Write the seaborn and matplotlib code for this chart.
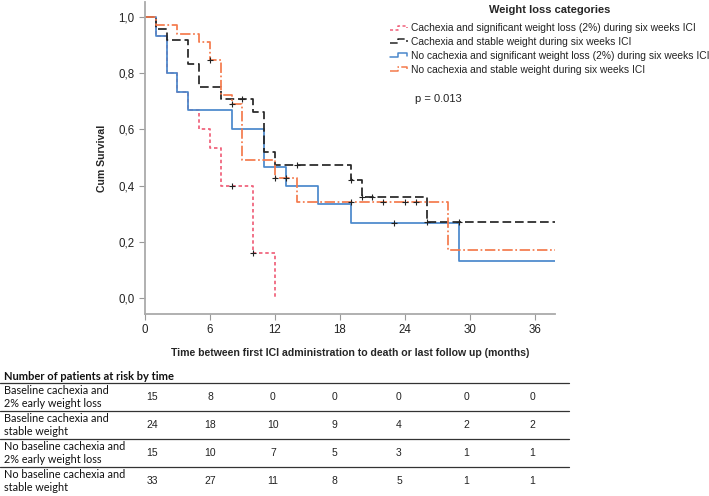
import matplotlib
matplotlib.use("Agg")
import matplotlib.pyplot as plt
from matplotlib.lines import Line2D
from matplotlib.legend_handler import HandlerLine2D
import numpy as np
import pandas as pd
import seaborn as sns

# Kaplan-Meier steps (time in months, cumulative survival)
groups = [
    "Cachexia and significant weight loss (2%) during six weeks ICI",
    "Cachexia and stable weight during six weeks ICI",
    "No cachexia and significant weight loss (2%) during six weeks ICI",
    "No cachexia and stable weight during six weeks ICI",
]
red_t = [0, 1, 2, 3, 4, 5, 6, 7, 10, 12]
red_s = [1.0, 0.933, 0.8, 0.733, 0.667, 0.6, 0.533, 0.4, 0.16, 0.0]
black_t = [0, 1, 2, 4, 5, 7, 10, 11, 12, 19, 20, 26, 38]
black_s = [1.0, 0.958, 0.917, 0.833, 0.75, 0.708, 0.66, 0.52, 0.472, 0.42, 0.36, 0.27, 0.27]
blue_t = [0, 1, 2, 3, 4, 8, 11, 13, 16, 19, 29, 38]
blue_s = [1.0, 0.933, 0.8, 0.733, 0.667, 0.6, 0.467, 0.4, 0.333, 0.267, 0.133, 0.133]
orange_t = [0, 1, 3, 5, 6, 7, 8, 9, 12, 14, 28, 38]
orange_s = [1.0, 0.97, 0.94, 0.909, 0.848, 0.721, 0.69, 0.492, 0.427, 0.342, 0.171, 0.171]

# censored observations
red_ct = [8, 10]
red_cs = [0.4, 0.16]
black_ct = [9, 14, 19, 20, 21, 26, 29]
black_cs = [0.708, 0.472, 0.42, 0.36, 0.36, 0.27, 0.27]
blue_ct = [23]
blue_cs = [0.267]
orange_ct = [6, 8, 12, 13, 19, 22, 24, 25]
orange_cs = [0.848, 0.69, 0.427, 0.427, 0.342, 0.342, 0.342, 0.342]

# number at risk table
risk_times = [0, 6, 12, 18, 24, 30, 36]
risk_labels = [
    "Baseline cachexia and\n2% early weight loss",
    "Baseline cachexia and\nstable weight",
    "No baseline cachexia and\n2% early weight loss",
    "No baseline cachexia and\nstable weight",
]
risk_red = [15, 8, 0, 0, 0, 0, 0]
risk_black = [24, 18, 10, 9, 4, 2, 2]
risk_blue = [15, 10, 7, 5, 3, 1, 1]
risk_orange = [33, 27, 11, 8, 5, 1, 1]

p_text = "p = 0.013"

colors = ["#f0607a", "#262626", "#4a88cc", "#f47a4c"]
dashes = [(2, 1.6), (5, 2.2), "", (6, 1.5, 1, 1.5)]

curves = pd.concat([
    pd.DataFrame({"time": t, "surv": s, "group": g})
    for g, t, s in zip(groups, [red_t, black_t, blue_t, orange_t],
                       [red_s, black_s, blue_s, orange_s])
])
cens = pd.concat([
    pd.DataFrame({"time": t, "surv": s})
    for t, s in [(red_ct, red_cs), (black_ct, black_cs),
                 (blue_ct, blue_cs), (orange_ct, orange_cs)]
])

sns.set_theme(style="white")
plt.rcParams["font.family"] = ["Liberation Sans", "DejaVu Sans"]

W, H = 709, 496
fig = plt.figure(figsize=(W / 100, H / 100), dpi=100)
ax = fig.add_axes([145 / W, 1 - 314 / H, (555 - 145) / W, (314 - 2) / H])

draw_order = [groups[0], groups[2], groups[1], groups[3]]
sns.lineplot(data=curves, x="time", y="surv", hue="group", style="group",
             hue_order=draw_order, style_order=draw_order,
             palette=dict(zip(groups, colors)), dashes=dict(zip(groups, dashes)),
             drawstyle="steps-post", estimator=None, errorbar=None,
             linewidth=1.25, legend=False, ax=ax)
sns.scatterplot(data=cens, x="time", y="surv", marker="+", color="#222222",
                s=18, linewidth=0.8, legend=False, zorder=5, ax=ax)

ax.set_xlim(0, 37.85)
ax.set_ylim(-0.057, 1.053)
ax.set_xticks(risk_times)
ax.set_yticks([0, 0.2, 0.4, 0.6, 0.8, 1.0])
ax.set_yticklabels([f"{v:.1f}".replace(".", ",") for v in ax.get_yticks()])
ax.tick_params(axis="both", which="both", direction="out", length=4, width=0.8,
               color="#999999", labelsize=8.3, labelcolor="#222222", pad=3.5,
               bottom=True, left=True)
for side in ["top", "right"]:
    ax.spines[side].set_visible(False)
for side in ["left", "bottom"]:
    ax.spines[side].set_color("#aaaaaa")
    ax.spines[side].set_linewidth(1.3)
ax.set_xlabel("Time between first ICI administration to death or last follow up (months)",
              fontsize=7.6, fontweight="bold", labelpad=8)
ax.set_ylabel("Cum Survival", fontsize=7.6, fontweight="bold", labelpad=8)


class StepHandler(HandlerLine2D):
    def create_artists(self, legend, orig_handle, xdescent, ydescent,
                       width, height, fontsize, trans):
        x0, w = -xdescent, width
        y0, h = -ydescent, height
        xs = [x0, x0 + 0.45 * w, x0 + 0.45 * w, x0 + w, x0 + w]
        ys = [y0 + 0.25 * h, y0 + 0.25 * h, y0 + 0.8 * h, y0 + 0.8 * h, y0 + 0.5 * h]
        line = Line2D(xs, ys)
        self.update_prop(line, orig_handle, legend)
        line.set_transform(trans)
        return [line]


handles = []
for c, d in zip(colors, dashes):
    h = Line2D([], [], color=c, linewidth=1.1)
    if d:
        h.set_dashes(d)
    handles.append(h)
leg = ax.legend(handles, groups, title="Weight loss categories",
                loc="upper left", bbox_to_anchor=(390 / W, 1 - 5 / H),
                bbox_transform=fig.transFigure, frameon=False,
                fontsize=7.4, title_fontproperties={"weight": "bold", "size": 8},
                handlelength=1.7, handletextpad=0.3, labelspacing=0.38,
                borderpad=0, borderaxespad=0,
                handler_map={Line2D: StepHandler()})
leg._legend_box.sep = 6
for t in leg.get_texts():
    t.set_color("#222222")

fig.text(415 / W, 1 - 99 / H, p_text, fontsize=8, va="center", color="#222222")

# patients-at-risk table drawn under the plot
tab_font = ["Lato", "DejaVu Sans"]
fig.text(4 / W, 1 - 377 / H, "Number of patients at risk by time", family=tab_font,
         fontsize=8.0, fontweight="bold", va="center", color="#111111")
line_y = [383, 411, 439, 467]
for y in line_y:
    fig.add_artist(Line2D([0, 569 / W], [1 - y / H, 1 - y / H],
                          transform=fig.transFigure, color="#333333", linewidth=0.9))
col_x = [152, 210, 273, 334, 399, 466, 532]
row_y = [397, 425, 453, 481]
for lab, counts, y in zip(risk_labels, [risk_red, risk_black, risk_blue, risk_orange], row_y):
    fig.text(4 / W, 1 - y / H, lab, family=tab_font, fontsize=7.8, va="center",
             linespacing=1.15, color="#111111")
    for x, n in zip(col_x, counts):
        fig.text(x / W, 1 - y / H, str(n), fontsize=7.5, ha="center", va="center",
                 color="#222222")

fig.savefig("out.png", dpi=100)
